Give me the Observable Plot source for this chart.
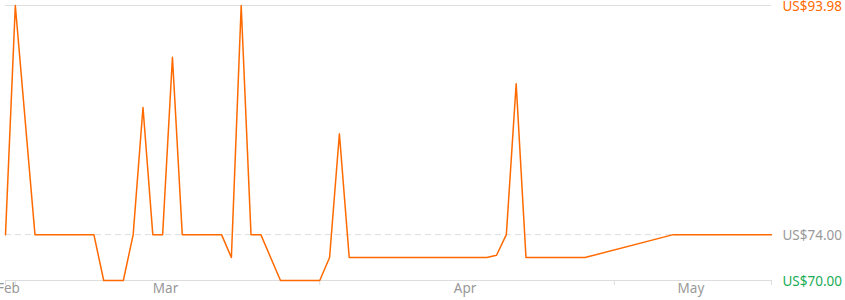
<!DOCTYPE html>
<html>
<head>
<meta charset="utf-8">
<script src="https://cdn.jsdelivr.net/npm/d3@7"></script>
<script src="https://cdn.jsdelivr.net/npm/@observablehq/plot@0.6"></script>
<style>
  html, body { margin: 0; padding: 0; background: #fff; }
  #chart svg { display: block; }
</style>
</head>
<body>
<div id="chart"></div>
<script>
// ---- data ----
const dates = [
  "2023-02-28","2023-03-01","2023-03-03","2023-03-09","2023-03-10","2023-03-12",
  "2023-03-13","2023-03-14","2023-03-15","2023-03-16","2023-03-17","2023-03-18",
  "2023-03-22","2023-03-23","2023-03-24","2023-03-25","2023-03-26","2023-03-28",
  "2023-04-01","2023-04-02","2023-04-03","2023-04-04","2023-04-18","2023-04-19",
  "2023-04-20","2023-04-21","2023-04-22","2023-04-28","2023-05-07","2023-05-17"
];
const prices = [
  74.00, 93.98, 74.00, 74.00, 70.00, 70.00,
  74.00, 85.08, 74.00, 74.00, 89.47, 74.00,
  74.00, 72.00, 93.98, 74.00, 74.00, 70.00,
  70.00, 72.00, 82.80, 72.00, 72.00, 72.20,
  74.00, 87.15, 72.00, 72.00, 74.00, 74.00
];
const tickDates = ["2023-02-28","2023-03-01","2023-04-01","2023-05-01","2023-05-17"];
const monthLabels = ["Feb","Mar","Apr","May"];
const priceMax = 93.98, priceRef = 74.00, priceMin = 70.00;
const priceLabels = ["US$93.98","US$74.00","US$70.00"];

// ---- build ----
const parse = d3.utcParse("%Y-%m-%d");
const data = dates.map((d, i) => ({date: parse(d), price: prices[i]}));
const ticks = tickDates.map(parse);
const labelRows = monthLabels.map((m, i) => ({
  date: new Date((ticks[i].getTime() + ticks[i + 1].getTime()) / 2),
  label: m
}));
const yLabelRows = [priceMax, priceRef, priceMin].map((v, i) => ({value: v, label: priceLabels[i]}));
const labelColors = ["#ff6a00", "#999999", "#1aac55"];
const endDate = ticks[ticks.length - 1];

const chart = Plot.plot({
  width: 845,
  height: 300,
  marginLeft: 5,
  marginRight: 74,
  marginTop: 5,
  marginBottom: 20,
  style: {fontFamily: "'Noto Sans', sans-serif", fontSize: "13px", background: "#fff"},
  x: {type: "utc", domain: [ticks[0], endDate], axis: null},
  y: {domain: [priceMin, priceMax], axis: null},
  marks: [
    Plot.ruleY([priceMax], {stroke: "#e0e0e0", strokeWidth: 1}),
    Plot.ruleY([priceRef], {stroke: "#dddddd", strokeWidth: 1, strokeDasharray: "6,4"}),
    Plot.ruleY([priceMin], {stroke: "#dddddd", strokeWidth: 1}),
    Plot.axisX({ticks: ticks, tickFormat: () => "", tickSize: 5, stroke: "#dddddd", strokeOpacity: 1}),
    Plot.text(labelRows, {x: "date", frameAnchor: "bottom", dy: 12, dx: -2, text: "label", fill: "#999999", fontSize: 13.5}),
    Plot.line(data, {x: "date", y: "price", stroke: "#ff6a00", strokeWidth: 1.5, curve: "linear"}),
    Plot.text(yLabelRows, {
      x: () => endDate, y: "value", text: "label", textAnchor: "start", dx: 11, dy: 1,
      fill: (d, i) => labelColors[i], fontSize: 13.5
    })
  ]
});
document.getElementById("chart").appendChild(chart);
</script>
</body>
</html>
